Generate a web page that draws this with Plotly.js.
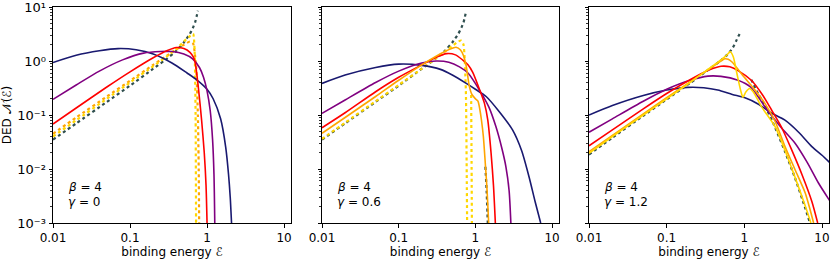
<!DOCTYPE html>
<html><head><meta charset="utf-8">
<script src="https://cdn.plot.ly/plotly-3.0.1.min.js"></script>
<style>html,body{margin:0;padding:0;background:#fff}#c{width:830px;height:260px}</style>
</head><body><div id="c"></div>
<script>
// ---------- data ----------
// panel 1: beta = 4, gamma = 0
const p1NavyE = [0.01,0.02,0.04,0.07,0.12,0.2,0.35,0.55,0.75,1.0,1.2,1.5,1.75,1.9,2.0,2.08];
const p1NavyV = [0.94,1.28,1.55,1.7,1.62,1.35,0.92,0.6,0.44,0.3,0.2,0.085,0.025,0.008,0.003,0.001];
const p1PurpleE = [0.01,0.02,0.04,0.08,0.15,0.25,0.35,0.5,0.65,0.8,0.9,1.0,1.1,1.18,1.23,1.26];
const p1PurpleV = [0.195,0.36,0.65,1.05,1.4,1.5,1.5,1.35,1.1,0.75,0.5,0.28,0.12,0.035,0.008,0.001];
const p1RedE = [0.01,0.02,0.05,0.1,0.2,0.3,0.4,0.5,0.6,0.66,0.7,0.77,0.85,0.92,0.97,1.0];
const p1RedV = [0.068,0.135,0.33,0.63,1.15,1.55,1.78,1.7,1.45,1.2,0.95,0.33,0.08,0.02,0.005,0.001];
const p1OrangeDotE = [0.01,0.02,0.05,0.1,0.2,0.3,0.4,0.5,0.6,0.66,0.72,0.76,0.78,0.79];
const p1OrangeDotV = [0.045,0.09,0.22,0.43,0.85,1.25,1.65,2.0,2.3,2.1,0.8,0.1,0.01,0.001];
const p1GoldDotE = [0.01,0.02,0.05,0.1,0.2,0.3,0.4,0.5,0.6,0.66,0.69,0.71,0.72];
const p1GoldDotV = [0.04,0.08,0.2,0.4,0.8,1.22,1.68,2.3,2.9,3.2,1.5,0.1,0.001];
const slateRiseE = [0.01,0.02,0.05,0.1,0.2,0.3,0.4,0.5,0.6,0.66,0.7,0.73,0.76];
const slateRiseV = [0.035,0.07,0.175,0.35,0.72,1.1,1.55,2.2,3.2,4.2,5.2,6.6,8.5];

// panel 2: beta = 4, gamma = 0.6
const p2NavyE = [0.01,0.02,0.05,0.1,0.2,0.35,0.5,0.76,1.0,1.38,2.0,3.05,4.0,5.0,6.0,7.1];
const p2NavyV = [0.385,0.55,0.76,0.875,0.83,0.7,0.55,0.385,0.3,0.22,0.12,0.053,0.022,0.0072,0.0025,0.001];
const p2PurpleE = [0.01,0.02,0.05,0.1,0.2,0.31,0.45,0.62,0.8,1.13,1.5,1.85,2.2,2.5,2.75,2.9];
const p2PurpleV = [0.107,0.19,0.4,0.65,0.92,1.0,0.95,0.78,0.6,0.29,0.14,0.061,0.025,0.011,0.004,0.001];
const p2RedE = [0.01,0.02,0.05,0.1,0.2,0.3,0.42,0.55,0.68,0.8,0.92,1.1,1.31,1.45,1.6,1.72,1.82];
const p2RedV = [0.058,0.11,0.27,0.5,0.85,1.15,1.37,1.3,1.05,0.85,0.62,0.33,0.166,0.081,0.02,0.005,0.001];
const p2OrangeE = [0.01,0.02,0.05,0.1,0.2,0.3,0.4,0.5,0.56,0.64,0.7,0.76,0.83,0.9,1.0,1.08,1.15,1.2,1.27,1.35,1.42,1.49];
const p2OrangeV = [0.046,0.09,0.22,0.44,0.85,1.2,1.5,1.72,1.8,1.6,1.25,0.8,0.35,0.24,0.2,0.18,0.12,0.08,0.04,0.012,0.004,0.001];
const p2GoldDotE = [0.01,0.02,0.05,0.1,0.2,0.3,0.4,0.5,0.6,0.65,0.7,0.75,0.77,0.78,null,0.88,0.89,0.9];
const p2GoldDotV = [0.036,0.072,0.18,0.36,0.72,1.1,1.5,1.9,2.3,2.4,2.0,0.3,0.01,0.001,null,0.235,0.02,0.001];
const p2SlateDropE = [1.35,1.4,1.45];
const p2SlateDropV = [0.011,0.004,0.001];

// panel 3: beta = 4, gamma = 1.2
const p3NavyE = [0.01,0.02,0.05,0.1,0.185,0.3,0.455,0.7,1.0,1.5,2.2,3.3,5.0,7.4,10,13];
const p3NavyV = [0.1,0.15,0.23,0.29,0.325,0.32,0.29,0.24,0.21,0.16,0.11,0.081,0.048,0.026,0.018,0.0125];
const p3PurpleE = [0.01,0.02,0.05,0.1,0.2,0.34,0.5,0.83,1.2,2.0,3.0,4.5,6.5,9,13];
const p3PurpleV = [0.048,0.085,0.18,0.3,0.44,0.525,0.52,0.44,0.33,0.12,0.058,0.03,0.013,0.0055,0.0024];
const p3RedE = [0.01,0.02,0.05,0.1,0.2,0.35,0.5,0.65,0.85,1.23,1.7,2.24,3.0,4.07,5.5,7.4,8.8];
const p3RedV = [0.027,0.053,0.13,0.25,0.45,0.68,0.8,0.78,0.65,0.44,0.24,0.124,0.06,0.0226,0.008,0.0025,0.001];
const p3OrangeE = [0.01,0.02,0.05,0.1,0.2,0.35,0.5,0.56,0.62,0.7,0.8,1.0,1.3,1.84,2.5,3.34,4.5,6.08,7.0,7.8];
const p3OrangeV = [0.021,0.042,0.105,0.21,0.41,0.7,1.0,1.1,1.08,0.95,0.75,0.5,0.32,0.164,0.075,0.026,0.0097,0.0036,0.0018,0.001];
const p3GoldE = [0.01,0.02,0.05,0.1,0.2,0.35,0.5,0.6,0.66,0.72,0.8,0.9,0.96,1.05,1.17,1.3,1.66,2.5,3.34,4.5,6.0,7.2];
const p3GoldV = [0.0196,0.04,0.1,0.2,0.4,0.72,1.05,1.3,1.49,1.2,0.6,0.28,0.213,0.27,0.31,0.27,0.143,0.06,0.022,0.007,0.0022,0.001];
const p3SlateE = [0.01,0.02,0.05,0.1,0.2,0.35,0.5,0.6,0.7,0.78,0.84,0.87,null,1.23,1.5,1.84,2.5,3.34,4.5,6.0,7.0];
const p3SlateV = [0.0185,0.038,0.097,0.195,0.39,0.7,1.03,1.3,1.7,2.3,2.9,3.2,null,0.45,0.25,0.15,0.058,0.021,0.0068,0.002,0.001];

const yTickVals = [0.001,0.01,0.1,1,10];
const yTickText = ['10⁻³','10⁻²','10⁻¹','10⁰','10¹'];
const yMinorVals = [0.002,0.003,0.004,0.005,0.006,0.007,0.008,0.009,
                    0.02,0.03,0.04,0.05,0.06,0.07,0.08,0.09,
                    0.2,0.3,0.4,0.5,0.6,0.7,0.8,0.9,
                    2,3,4,5,6,7,8,9];
const xTickVals = [0.01,0.1,1,10];
const xTickText = ['0.01','0.1','1','10'];
const gammaLabels = ['0','0.6','1.2'];
const betaLabel = '4';

// ---------- styles ----------
const C = {navy:'#191970', purple:'#800080', red:'#ff0000', orange:'#ffa500', gold:'#ffd700', slate:'#2f4f4f'};
function solid(x,y,col,ax){return {x:x,y:y,mode:'lines',line:{color:col,width:1.6,shape:'spline',smoothing:0.7},xaxis:'x'+ax,yaxis:'y'+ax,hoverinfo:'skip',connectgaps:false};}
function dotted(x,y,col,ax){return {x:x,y:y,mode:'lines',line:{color:col,width:2.2,dash:'dot',shape:'spline',smoothing:0.5},xaxis:'x'+ax,yaxis:'y'+ax,hoverinfo:'skip',connectgaps:false};}

const traces = [
  dotted(slateRiseE,slateRiseV,C.slate,''),
  dotted(p1OrangeDotE,p1OrangeDotV,C.orange,''),
  dotted(p1GoldDotE,p1GoldDotV,C.gold,''),
  solid(p1NavyE,p1NavyV,C.navy,''),
  solid(p1PurpleE,p1PurpleV,C.purple,''),
  solid(p1RedE,p1RedV,C.red,''),

  dotted(slateRiseE,slateRiseV,C.slate,'2'),
  dotted(p2SlateDropE,p2SlateDropV,C.slate,'2'),
  dotted(p2GoldDotE,p2GoldDotV,C.gold,'2'),
  solid(p2NavyE,p2NavyV,C.navy,'2'),
  solid(p2PurpleE,p2PurpleV,C.purple,'2'),
  solid(p2RedE,p2RedV,C.red,'2'),
  solid(p2OrangeE,p2OrangeV,C.orange,'2'),

  dotted(p3SlateE,p3SlateV,C.slate,'3'),
  solid(p3NavyE,p3NavyV,C.navy,'3'),
  solid(p3PurpleE,p3PurpleV,C.purple,'3'),
  solid(p3RedE,p3RedV,C.red,'3'),
  solid(p3OrangeE,p3OrangeV,C.orange,'3'),
  solid(p3GoldE,p3GoldV,C.gold,'3')
];

const font = {family:'DejaVu Sans, sans-serif', size:12, color:'#000'};
const tickFont = {family:'DejaVu Sans, sans-serif', size:13, color:'#000'};
const W = 830, H = 260;
const xDomains = [[53/W,291/W],[322/W,559/W],[589/W,829/W]];
const yDomain = [(H-223)/H,(H-7)/H];

function xax(i){
  return {type:'log', domain:xDomains[i], range:[-2,1.09], anchor:i===0?'y':'y'+(i+1),
    tickmode:'array', tickvals:xTickVals, ticktext:xTickText, ticks:'outside', ticklen:3.5, tickwidth:1, tickcolor:'#000',
    showline:true, mirror:true, linecolor:'#000', linewidth:1, showgrid:false, zeroline:false, ticklabeloverflow:'allow',
    tickfont:font, title:{text:'binding energy ℰ', font:font, standoff:2}};
}
function yax(i){
  return {type:'log', domain:yDomain, range:[-3,1.0005], anchor:i===0?'x':'x'+(i+1),
    tickmode:'array', tickvals:yTickVals, ticktext:yTickText, showticklabels:i===0, ticks:'outside', ticklen:3.5, tickwidth:1, tickcolor:'#000',
    minor:{tickmode:'array', tickvals:yMinorVals, ticks:'outside', ticklen:2, tickcolor:'#000', tickwidth:0.8, showgrid:false},
    showline:true, mirror:true, linecolor:'#000', linewidth:1, showgrid:false, zeroline:false, ticklabeloverflow:'allow',
    tickfont:tickFont, title:i===0?{text:'DED 𝒩(ℰ)', font:font, standoff:4}:{text:''}};
}

const annotations = [];
for (let i=0;i<3;i++){
  const x0 = xDomains[i][0] + 13/W;
  annotations.push({xref:'paper',yref:'paper',x:x0,y:(H-187)/H,xanchor:'left',yanchor:'middle',showarrow:false,
    text:'<i>β</i> = '+betaLabel, font:font});
  annotations.push({xref:'paper',yref:'paper',x:x0,y:(H-202)/H,xanchor:'left',yanchor:'middle',showarrow:false,
    text:'<i>γ</i> = '+gammaLabels[i], font:font});
}

const layout = {
  width:W, height:H, margin:{l:0,r:0,t:0,b:0}, paper_bgcolor:'#fff', plot_bgcolor:'#fff',
  showlegend:false, font:font, annotations:annotations,
  xaxis:xax(0), xaxis2:xax(1), xaxis3:xax(2),
  yaxis:yax(0), yaxis2:yax(1), yaxis3:yax(2)
};
Plotly.newPlot('c', traces, layout, {staticPlot:true, displayModeBar:false});
</script>
</body></html>
